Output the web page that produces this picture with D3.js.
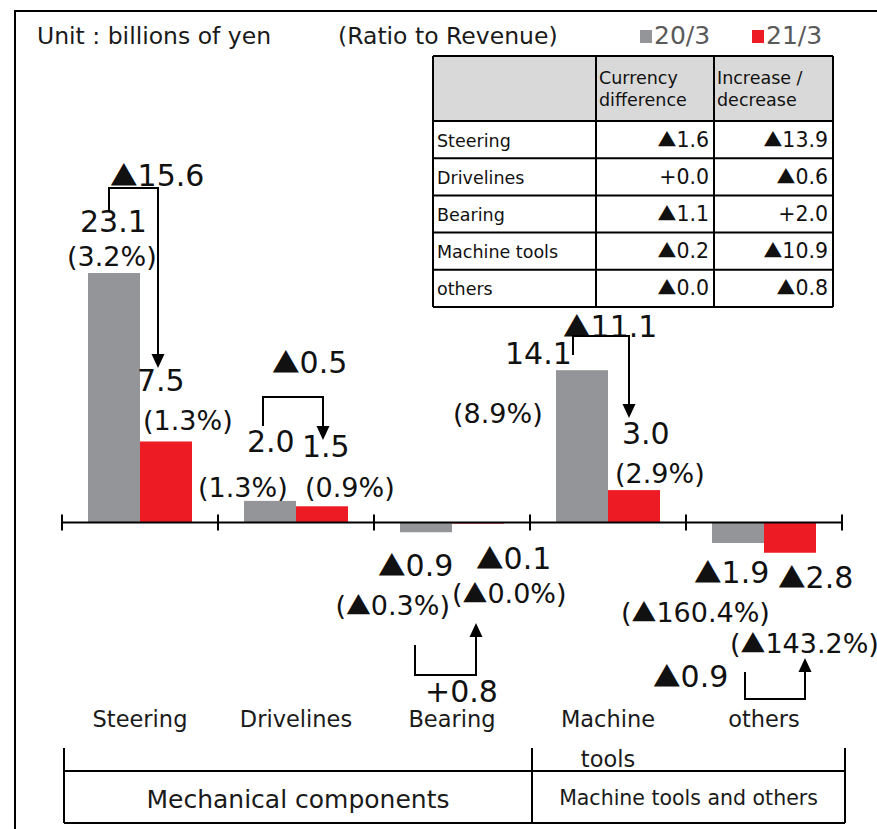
<!DOCTYPE html>
<html><head><meta charset="utf-8">
<script src="https://cdn.jsdelivr.net/npm/d3@7"></script>
<style>html,body{margin:0;padding:0;background:#fff;}svg{display:block;}</style>
</head><body>
<svg id="chart" width="877" height="829"></svg>
<script>
// ---------- data ----------
const categories = ["Steering", "Drivelines", "Bearing", "Machine tools", "others"];
const categoryLines = [["Steering"], ["Drivelines"], ["Bearing"], ["Machine", "tools"], ["others"]];
const seriesNames = ["20/3", "21/3"];
const values2003 = [23.1, 2.0, -0.9, 14.1, -1.9];
const values2103 = [7.5, 1.5, -0.1, 3.0, -2.8];
const groupNames = ["Mechanical components", "Machine tools and others"];
const tableHeader = ["", "Currency\ndifference", "Increase /\ndecrease"];
const tableRows = ["Steering", "Drivelines", "Bearing", "Machine tools", "others"];
const currencyDiff = ["▲1.6", "+0.0", "▲1.1", "▲0.2", "▲0.0"];
const incDec = ["▲13.9", "▲0.6", "+2.0", "▲10.9", "▲0.8"];
const changeLabels = ["▲15.6", "▲0.5", "+0.8", "▲11.1", "▲0.9"];
const valueLabels2003 = ["23.1", "2.0", "▲0.9", "14.1", "▲1.9"];
const valueLabels2103 = ["7.5", "1.5", "▲0.1", "3.0", "▲2.8"];
const ratioLabels2003 = ["(3.2%)", "(1.3%)", "(▲0.3%)", "(8.9%)", "(▲160.4%)"];
const ratioLabels2103 = ["(1.3%)", "(0.9%)", "(▲0.0%)", "(2.9%)", "(▲143.2%)"];

// ---------- layout / style ----------
const W = 877, H = 829;
const FONT = "'DejaVu Sans', Verdana, sans-serif";
const CJK = "'Noto Sans CJK JP', 'DejaVu Sans', sans-serif";
const colors = {"20/3": "#939598", "21/3": "#ED1C24"};
const svg = d3.select("#chart").style("font-family", FONT);

const x = d3.scaleBand().domain(categories).range([62, 842]).padding(0);
const xs = d3.scaleBand().domain(seriesNames).range([26, 130]).padding(0);
const y = d3.scaleLinear().domain([0, 23.1]).range([522.5, 273]);

// text helper: render ▲ with a full-width glyph
function richText(sel, str) {
  const parts = str.split(/(▲)/).filter(p => p !== "");
  parts.forEach(p => {
    const ts = sel.append("tspan").text(p);
    if (p === "▲") ts.style("font-family", CJK).attr("font-size", "0.92em");
  });
  return sel;
}

// outer frame
svg.append("path").attr("d", `M15,${H} L15,11 L${W},11`).attr("fill", "none").attr("stroke", "#000").attr("stroke-width", 2);

// header texts
svg.append("text").attr("x", 37).attr("y", 44).attr("font-size", 23.5).attr("fill", "#1a1a1a").text("Unit : billions of yen");
svg.append("text").attr("x", 338).attr("y", 44).attr("font-size", 23.5).attr("fill", "#1a1a1a").text("(Ratio to Revenue)");
const legX = [640, 752];
seriesNames.forEach((s, i) => {
  svg.append("rect").attr("x", legX[i]).attr("y", 30).attr("width", 12).attr("height", 13).attr("fill", colors[s]);
  svg.append("text").attr("x", legX[i] + 14).attr("y", 44).attr("font-size", 25).attr("fill", "#595959").text(s);
});

// bars
const barData = [];
categories.forEach((c, i) => {
  barData.push({cat: c, s: "20/3", v: values2003[i]});
  barData.push({cat: c, s: "21/3", v: values2103[i]});
});
svg.append("g").selectAll("rect").data(barData).join("rect")
  .attr("x", d => x(d.cat) + xs(d.s))
  .attr("width", xs.bandwidth())
  .attr("y", d => Math.min(y(d.v), y(0)))
  .attr("height", d => Math.max(1, Math.abs(y(d.v) - y(0))))
  .attr("fill", d => colors[d.s]);

// axis line with ticks at category boundaries
const axisG = svg.append("g");
axisG.append("line").attr("x1", x.range()[0]).attr("x2", x.range()[1]).attr("y1", y(0)).attr("y2", y(0)).attr("stroke", "#000").attr("stroke-width", 2);
const bounds = categories.map(c => x(c)).concat([x.range()[1]]);
axisG.selectAll("line.tick").data(bounds).join("line").attr("class", "tick")
  .attr("x1", d => d).attr("x2", d => d).attr("y1", y(0) - 8).attr("y2", y(0) + 8)
  .attr("stroke", "#000").attr("stroke-width", 2);

// category labels
categoryLines.forEach((lines, i) => {
  lines.forEach((t, j) => {
    svg.append("text").attr("x", x(categories[i]) + x.bandwidth() / 2).attr("y", 727 + j * 40)
      .attr("text-anchor", "middle").attr("font-size", 22.5).attr("fill", "#1a1a1a").text(t);
  });
});

// group table at bottom
const gTop = 748, gMid = 771, gBot = 823;
const gx0 = x.range()[0] + 2;
svg.append("line").attr("x1", gx0).attr("x2", x.range()[1] + 3).attr("y1", gMid).attr("y2", gMid).attr("stroke", "#000").attr("stroke-width", 2);
svg.append("line").attr("x1", gx0).attr("x2", x.range()[1] + 3).attr("y1", gBot).attr("y2", gBot).attr("stroke", "#000").attr("stroke-width", 2);
const gEdges = [gx0, x(categories[3]) + 2, x.range()[1] + 3];
gEdges.forEach(e => svg.append("line").attr("x1", e).attr("x2", e).attr("y1", gTop).attr("y2", gBot).attr("stroke", "#000").attr("stroke-width", 2));
const gFont = [25, 20.5];
const gBase = [808, 805];
groupNames.forEach((g, i) => {
  svg.append("text").attr("x", (gEdges[i] + gEdges[i + 1]) / 2).attr("y", gBase[i]).attr("text-anchor", "middle")
    .attr("font-size", gFont[i]).attr("fill", "#1a1a1a").text(g);
});

// annotations: positions relative to category band start
const bigSize = 30, pctSize = 27;
const labelLayout = [
  // [catIndex, text, dx, baseline y, size, anchor]
  [0, changeLabels[0], 48, 186, bigSize, "start"],
  [0, valueLabels2003[0], 18, 232, bigSize, "start"],
  [0, ratioLabels2003[0], 5, 266, pctSize, "start"],
  [0, valueLabels2103[0], 75, 391, bigSize, "start"],
  [0, ratioLabels2103[0], 81, 430, pctSize, "start"],
  [1, changeLabels[1], 54, 373, bigSize, "start"],
  [1, valueLabels2003[1], 29, 452, bigSize, "start"],
  [1, valueLabels2103[1], 84, 457, bigSize, "start"],
  [1, ratioLabels2003[1], -20, 497, pctSize, "start"],
  [1, ratioLabels2103[1], 87, 497, pctSize, "start"],
  [2, ratioLabels2003[3], 79, 423, pctSize, "start"],
  [2, valueLabels2003[2], 4, 576, bigSize, "start"],
  [2, valueLabels2103[2], 102, 569, bigSize, "start"],
  [2, ratioLabels2003[2], 76, 615, pctSize, "end"],
  [2, ratioLabels2103[2], 78, 603, pctSize, "start"],
  [2, changeLabels[2], 51, 702, bigSize, "start"],
  [3, changeLabels[3], 33, 337, bigSize, "start"],
  [3, valueLabels2003[3], -25, 364, bigSize, "start"],
  [3, valueLabels2103[3], 92, 444, bigSize, "start"],
  [3, ratioLabels2103[3], 85, 483, pctSize, "start"],
  [4, valueLabels2003[4], 8, 583, bigSize, "start"],
  [4, valueLabels2103[4], 92, 588, bigSize, "start"],
  [4, ratioLabels2003[4], -65, 622, pctSize, "start"],
  [4, ratioLabels2103[4], 44, 653, pctSize, "start"],
  [4, changeLabels[4], -33, 687, bigSize, "start"]
];
labelLayout.forEach(([ci, t, dx, by, sz, anc]) => {
  const el = svg.append("text").attr("x", x(categories[ci]) + dx).attr("y", by).attr("font-size", sz)
    .attr("text-anchor", anc).attr("fill", "#111");
  richText(el, t);
});

// change arrows: [catIndex, start dx, start y, corner y, end dx, tip y]
const arrowLayout = [
  [0, 47, 212, 188, 96, 368],
  [1, 45, 426, 397, 105, 440],
  [2, 41, 645, 675, 102, 623],
  [3, 43, 355, 336, 99, 418],
  [4, 59, 672, 699, 119, 658]
];
const ag = svg.append("g");
arrowLayout.forEach(([ci, sdx, sy, cy, edx, ty]) => {
  const x0 = x(categories[ci]);
  const sx = x0 + sdx, ex = x0 + edx;
  const dir = ty > cy ? 1 : -1;
  const headLen = 14, headW = 6.5;
  ag.append("path").attr("d", `M${sx},${sy} L${sx},${cy} L${ex},${cy} L${ex},${ty - dir * headLen}`)
    .attr("fill", "none").attr("stroke", "#000").attr("stroke-width", 2);
  ag.append("path").attr("d", `M${ex - headW},${ty - dir * headLen} L${ex + headW},${ty - dir * headLen} L${ex},${ty} Z`).attr("fill", "#000");
});

// data table (top right)
const tX = [433, 596, 714, 833];
const tY = [56, 121];
for (let i = 1; i <= tableRows.length; i++) tY.push(121 + i * 37.2);
const tg = svg.append("g");
tg.append("rect").attr("x", tX[0]).attr("y", tY[0]).attr("width", tX[3] - tX[0]).attr("height", tY[1] - tY[0]).attr("fill", "#d9d9d9");
tY.forEach(v => tg.append("line").attr("x1", tX[0]).attr("x2", tX[3]).attr("y1", v).attr("y2", v).attr("stroke", "#000").attr("stroke-width", 2));
tX.forEach(v => tg.append("line").attr("x1", v).attr("x2", v).attr("y1", tY[0]).attr("y2", tY[tY.length - 1]).attr("stroke", "#000").attr("stroke-width", 2));
const tFont = 17.5;
tableHeader.forEach((h, ci) => {
  h.split("\n").forEach((ln, li) => {
    if (!ln) return;
    tg.append("text").attr("x", tX[ci] + 3).attr("y", 84 + li * 22).attr("font-size", tFont).attr("fill", "#111").text(ln);
  });
});
tableRows.forEach((r, ri) => {
  const by = (tY[ri + 1] + tY[ri + 2]) / 2 + 7;
  tg.append("text").attr("x", tX[0] + 4).attr("y", by).attr("font-size", tFont).attr("fill", "#111").text(r);
  richText(tg.append("text").attr("x", tX[2] - 5).attr("y", by).attr("font-size", 20.5).attr("text-anchor", "end").attr("fill", "#111"), currencyDiff[ri]);
  richText(tg.append("text").attr("x", tX[3] - 5).attr("y", by).attr("font-size", 20.5).attr("text-anchor", "end").attr("fill", "#111"), incDec[ri]);
});
</script>
</body></html>
